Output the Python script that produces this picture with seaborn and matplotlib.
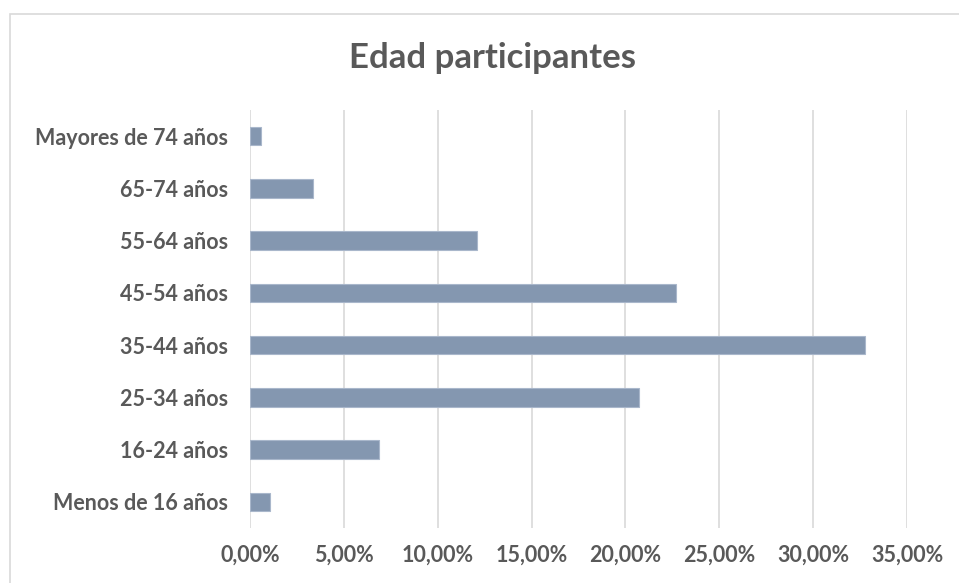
import matplotlib
matplotlib.use("Agg")
import matplotlib.pyplot as plt
import matplotlib.patches as mpatches
from matplotlib.ticker import FuncFormatter, MultipleLocator
import seaborn as sns
import pandas as pd

categories = ["Mayores de 74 años", "65-74 años", "55-64 años", "45-54 años",
              "35-44 años", "25-34 años", "16-24 años", "Menos de 16 años"]
values = [0.61, 3.33, 12.08, 22.70, 32.75, 20.70, 6.88, 1.09]
title = "Edad participantes"

sns.set_theme(style="white")
plt.rcParams['font.family'] = ['Lato', 'DejaVu Sans']

df = pd.DataFrame({"cat": categories, "val": values})

fig = plt.figure(figsize=(9.59, 5.83), dpi=100)
ax = fig.add_axes([250/959, 1-528/583, (907-250)/959, (528-110)/583])

sns.barplot(data=df, y="cat", x="val", order=categories, orient="h",
            color="#8497B0", width=0.35, edgecolor="#A9B7CB", linewidth=0.8,
            saturation=1, ax=ax)

ax.set_xlim(0, 35)
ax.xaxis.set_major_locator(MultipleLocator(5))
ax.xaxis.set_major_formatter(FuncFormatter(lambda v, p: f"{v:.2f}%".replace(".", ",")))
ax.grid(axis="x", color="#D9D9D9", linewidth=1.2)
ax.set_axisbelow(True)
for s in ax.spines.values():
    s.set_visible(False)
ax.set_xlabel("")
ax.set_ylabel("")
ax.tick_params(axis="both", length=0, colors="#595959")
ax.tick_params(axis="x", pad=12)
ax.tick_params(axis="y", pad=16)
for lab in ax.get_xticklabels() + ax.get_yticklabels():
    lab.set_fontweight("bold")
    lab.set_fontsize(15.5)
    lab.set_color("#595959")

fig.text(492/959, 1-58/583, title, ha="center", va="center",
         fontsize=25, fontweight="bold", color="#595959")

border = mpatches.Rectangle((10/959, -0.05), 1.0, 1-14/583+0.05,
                            transform=fig.transFigure, fill=False,
                            edgecolor="#D9D9D9", linewidth=1.2)
fig.patches.append(border)

fig.savefig("out.png", dpi=100)
